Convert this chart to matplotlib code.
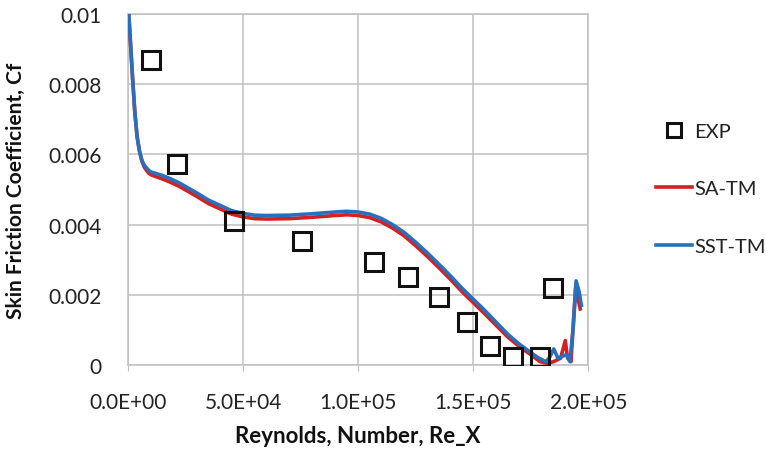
import matplotlib
matplotlib.use("Agg")
import matplotlib.pyplot as plt
from matplotlib.ticker import FixedLocator, FixedFormatter

plt.rcParams['font.family'] = ['Lato', 'DejaVu Sans']

# experimental points (Re_x, Cf)
exp_re = [9870, 21400, 46200, 75500, 106700, 121600, 135200, 147300, 157100, 167500, 179100, 184500]
exp_cf = [0.0087, 0.00573, 0.00409, 0.00354, 0.00294, 0.0025, 0.00193, 0.00122, 0.00055, 0.00022, 0.00022, 0.0022]

# SST-TM prediction
sst_re = [0, 1000, 2000, 3000, 4000, 5000, 6000, 7000, 8000, 9000, 10000, 12000, 15000, 18000, 22000,
          26000, 30000, 35000, 40000, 45000, 50000, 55000, 60000, 70000, 80000, 90000, 95000, 100000,
          105000, 110000, 115000, 120000, 125000, 130000, 135000, 140000, 145000, 150000, 155000,
          160000, 165000, 170000, 175000, 178000, 181500, 183000, 185000, 186800, 189000, 190500,
          192000, 193500, 194700, 196000, 197000]
sst_cf = [0.0104, 0.0093, 0.0082, 0.0072, 0.0065, 0.0061, 0.00585, 0.0057, 0.00562, 0.00555, 0.0055,
          0.00546, 0.0054, 0.00532, 0.0052, 0.00505, 0.0049, 0.0047, 0.00455, 0.0044, 0.00432, 0.00427,
          0.00426, 0.00427, 0.00431, 0.00436, 0.00438, 0.00436, 0.0043, 0.00418, 0.004, 0.00378,
          0.0035, 0.0032, 0.00288, 0.00255, 0.0022, 0.00188, 0.00156, 0.00122, 0.00088, 0.0006,
          0.00036, 0.00022, 0.0001, 0.0002, 0.00046, 0.0002, 0.00026, 0.0003, 0.0001, 0.0011,
          0.0024, 0.0021, 0.0017]

# SA-TM prediction
sa_re = [0, 1000, 2000, 3000, 4000, 5000, 6000, 7000, 8000, 9000, 10000, 12000, 15000, 18000, 22000,
         26000, 30000, 35000, 40000, 45000, 50000, 55000, 60000, 70000, 80000, 90000, 95000, 100000,
         105000, 110000, 115000, 120000, 125000, 130000, 135000, 140000, 145000, 150000, 155000,
         160000, 165000, 170000, 175000, 179000, 182000, 185000, 188000, 190000, 191000, 192500,
         193500, 194500, 195500, 196500]
sa_cf = [0.0104, 0.0093, 0.0082, 0.0072, 0.0065, 0.0061, 0.00582, 0.00565, 0.00555, 0.00547, 0.00542,
         0.00537, 0.0053, 0.00522, 0.0051, 0.00495, 0.0048, 0.0046, 0.00445, 0.0043, 0.00422, 0.00417,
         0.00416, 0.00417, 0.00421, 0.00426, 0.00428, 0.00426, 0.0042, 0.00408, 0.0039, 0.00368,
         0.0034, 0.0031, 0.00278, 0.00245, 0.0021, 0.00178, 0.00146, 0.00113, 0.0008, 0.00053,
         0.0003, 0.0001, 0.00005, 0.0001, 0.0002, 0.0007, 0.0002, 0.0001, 0.0012, 0.0022,
         0.0019, 0.0016]

x_ticks = [0, 50000, 100000, 150000, 200000]
x_labels = ['0.0E+00', '5.0E+04', '1.0E+05', '1.5E+05', '2.0E+05']
y_ticks = [0, 0.002, 0.004, 0.006, 0.008, 0.01]
y_labels = ['0', '0.002', '0.004', '0.006', '0.008', '0.01']

fig = plt.figure(figsize=(7.66, 4.52), dpi=100)
ax = fig.add_axes([0.167, 0.19, 0.601, 0.777])

ax.plot(sa_re, sa_cf, color='#d42020', lw=2.6, label='SA-TM', zorder=3)
ax.plot(sst_re, sst_cf, color='#2a6fbd', lw=2.6, label='SST-TM', zorder=4)
ax.plot(exp_re, exp_cf, ls='none', marker='s', ms=12.5, mfc='none', mec='#111111', mew=2.2,
        label='EXP', zorder=5)

ax.set_xlim(0, 200000)
ax.set_ylim(0, 0.01)
ax.xaxis.set_major_locator(FixedLocator(x_ticks))
ax.xaxis.set_major_formatter(FixedFormatter(x_labels))
ax.yaxis.set_major_locator(FixedLocator(y_ticks))
ax.yaxis.set_major_formatter(FixedFormatter(y_labels))

ax.grid(True, color='#c0c0c0', lw=1.1)
ax.set_axisbelow(True)
for s in ax.spines.values():
    s.set_color('#c0c0c0')
    s.set_linewidth(1.1)
ax.tick_params(axis='x', colors='#c0c0c0', length=4, labelcolor='#222222', labelsize=15, pad=15)
ax.tick_params(axis='y', length=0, labelcolor='#222222', labelsize=15, pad=19)

ax.set_xlabel('Reynolds, Number, Re_X', fontsize=16, fontweight='bold', color='#111111', labelpad=10)
ax.set_ylabel('Skin Friction Coefficient, Cf', fontsize=15, fontweight='bold', color='#111111', labelpad=16)

handles, labels = ax.get_legend_handles_labels()
order = [2, 0, 1]
leg = fig.legend([handles[i] for i in order], [labels[i] for i in order],
                 loc='upper left', bbox_to_anchor=(0.843, 0.748), frameon=False, borderpad=0,
                 fontsize=14.5, labelspacing=2.0, handlelength=1.8, handletextpad=0.1, markerscale=0.85)
for t in leg.get_texts():
    t.set_color('#222222')

fig.savefig('out.png', dpi=100)
